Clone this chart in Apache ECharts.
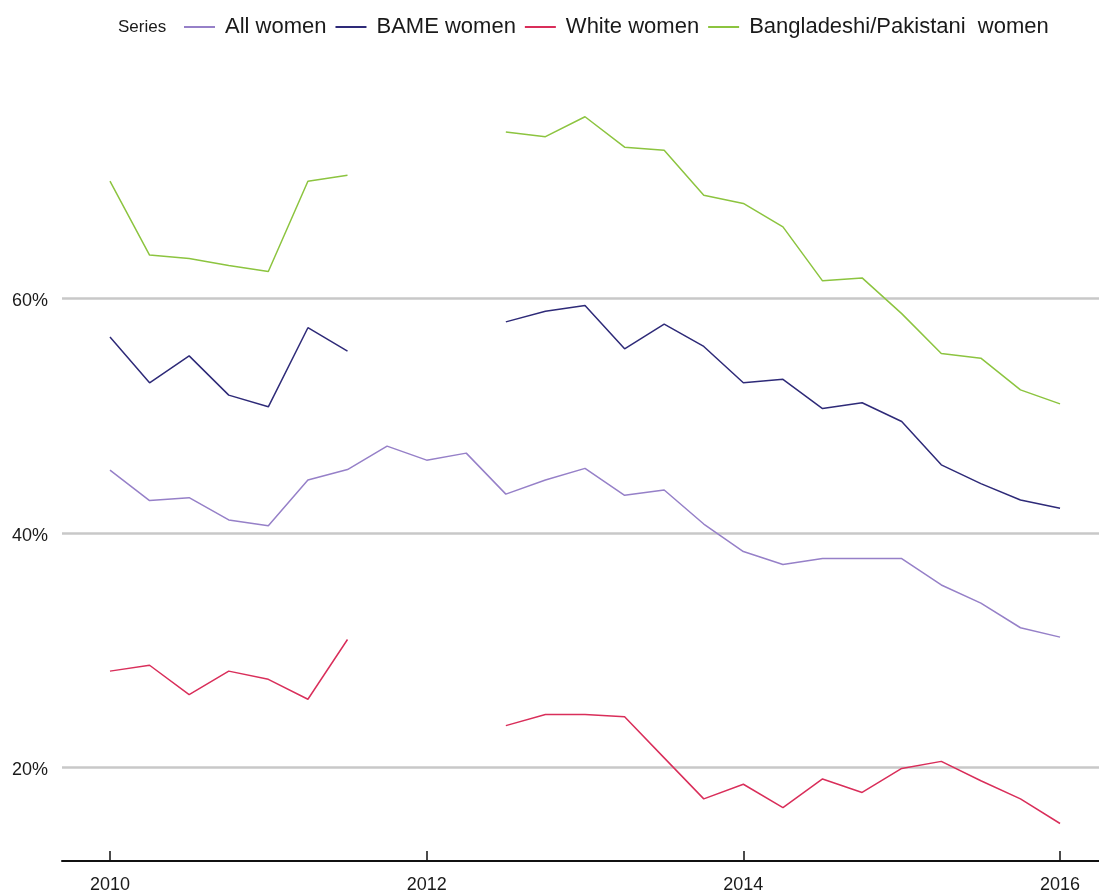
<!DOCTYPE html>
<html>
<head>
<meta charset="utf-8">
<script src="https://cdn.jsdelivr.net/npm/echarts@6/dist/echarts.min.js"></script>
<style>
  html, body { margin: 0; padding: 0; background: #fff; }
  #chart { width: 1099px; height: 893px; }
</style>
</head>
<body>
<div id="chart"></div>
<script>
// quarters, 2010 Q1 .. 2016 Q1
var quarters = [2010, 2010.25, 2010.5, 2010.75, 2011, 2011.25, 2011.5, 2011.75,
  2012, 2012.25, 2012.5, 2012.75, 2013, 2013.25, 2013.5, 2013.75,
  2014, 2014.25, 2014.5, 2014.75, 2015, 2015.25, 2015.5, 2015.75, 2016];

var seriesNames = ['All women', 'BAME women', 'White women', 'Bangladeshi/Pakistani  women'];
var seriesColors = ['#9680c8', '#2e2a78', '#d92e5a', '#8cc43f'];

// percentages, null = no data
var allWomen = [45.35, 42.75, 43.0, 41.1, 40.6, 44.5, 45.4, 47.4,
  46.2, 46.8, 43.3, 44.5, 45.5, 43.2, 43.65, 40.75,
  38.4, 37.3, 37.8, 37.8, 37.8, 35.55, 34.0, 31.9, 31.1];
var bameWomen = [56.7, 52.8, 55.1, 51.75, 50.75, 57.5, 55.5, null,
  null, null, 58.0, 58.9, 59.4, 55.7, 57.8, 55.9,
  52.8, 53.1, 50.6, 51.1, 49.5, 45.8, 44.2, 42.8, 42.1];
var whiteWomen = [28.2, 28.7, 26.2, 28.2, 27.5, 25.8, 30.9, null,
  null, null, 23.55, 24.5, 24.5, 24.3, 20.8, 17.3,
  18.55, 16.55, 19.0, 17.85, 19.9, 20.5, 18.85, 17.3, 15.2];
var bpWomen = [70.0, 63.7, 63.4, 62.8, 62.3, 70.0, 70.5, null,
  null, null, 74.2, 73.8, 75.5, 72.9, 72.65, 68.8,
  68.1, 66.1, 61.5, 61.75, 58.7, 55.3, 54.9, 52.2, 51.0];

var yTicks = [20, 40, 60];
var xTicks = [2010, 2012, 2014, 2016];

function pairs(values) {
  return quarters.map(function (q, i) { return [q, values[i]]; });
}

var allValues = [allWomen, bameWomen, whiteWomen, bpWomen];
var series = seriesNames.map(function (name, i) {
  return {
    name: name,
    type: 'line',
    data: pairs(allValues[i]),
    showSymbol: false,
    connectNulls: false,
    lineStyle: { color: seriesColors[i], width: 1.5 },
    itemStyle: { color: seriesColors[i] }
  };
});

var chart = echarts.init(document.getElementById('chart'));
chart.setOption({
  animation: false,
  backgroundColor: '#ffffff',
  textStyle: { fontFamily: 'Liberation Sans, Arial, sans-serif' },
  title: {
    text: 'Series',
    left: 118,
    top: 19,
    padding: 0,
    textStyle: { fontSize: 17, fontWeight: 'normal', color: '#1a1a1a' }
  },
  legend: {
    data: seriesNames,
    left: 184,
    top: 16,
    padding: 0,
    icon: 'rect',
    itemWidth: 31,
    itemHeight: 2,
    itemGap: 9,
    textStyle: { fontSize: 22, color: '#1a1a1a', padding: [0, 0, 0, 5] }
  },
  grid: { left: 62, right: 0, top: 64, bottom: 32, containLabel: false, outerBoundsMode: 'none' },
  xAxis: {
    type: 'value',
    min: 2009.697,
    max: 2016.246,
    axisLine: { show: true, lineStyle: { color: '#111', width: 2 } },
    axisTick: { show: true, inside: true, length: 10, customValues: xTicks, lineStyle: { color: '#111', width: 1.5 } },
    axisLabel: { customValues: xTicks, fontSize: 18, color: '#1a1a1a', margin: 15, formatter: function (v) { return String(v); } },
    splitLine: { show: false }
  },
  yAxis: {
    type: 'value',
    min: 12,
    max: 80,
    axisLine: { show: false },
    axisTick: { show: false, customValues: yTicks },
    axisLabel: { customValues: yTicks, fontSize: 18, color: '#1a1a1a', margin: 14, verticalAlign: 'top', lineHeight: 6, formatter: function (v) { return v + '%'; } },
    splitLine: { show: true, lineStyle: { color: '#c8c8c8', width: 2.5 } }
  },
  series: series
});
</script>
</body>
</html>
